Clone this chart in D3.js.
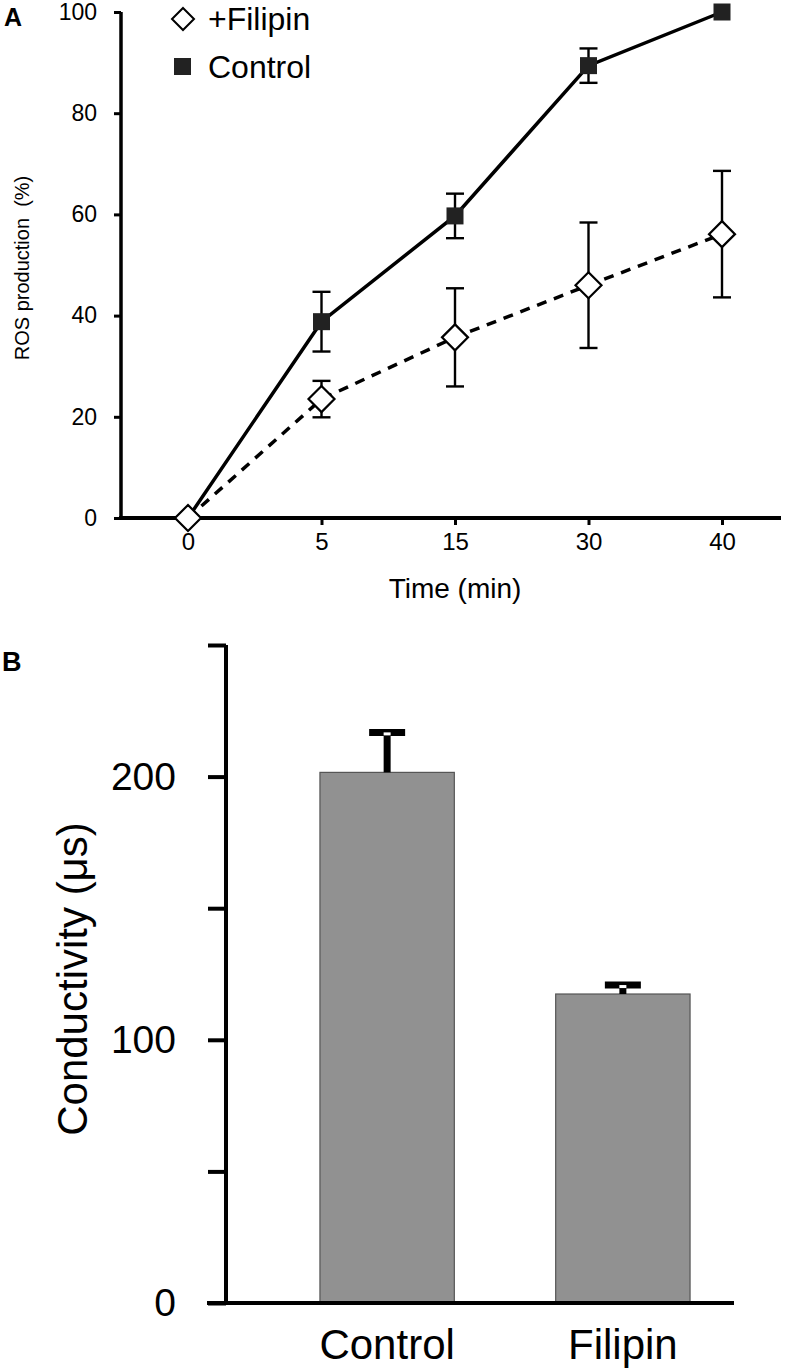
<!DOCTYPE html>
<html><head><meta charset="utf-8">
<script src="https://cdn.jsdelivr.net/npm/d3@7"></script>
<style>
html,body{margin:0;padding:0;background:#fff;}
svg{display:block;font-family:"Liberation Sans",Arial,Helvetica,sans-serif;}
</style></head>
<body>
<svg id="chart" width="793" height="1372"></svg>
<script>
// ---- Panel A data ----
const times = ["0", "5", "15", "30", "40"];
const controlMean = [0, 38.8, 59.7, 89.4, 100];
const controlErr = [0, 5.9, 4.4, 3.4, 0];
const filipinMean = [0, 23.5, 35.7, 46.0, 56.1];
const filipinErr = [0, 3.6, 9.7, 12.4, 12.5];
const yTicksA = [0, 20, 40, 60, 80, 100];
const legendLabels = ["+Filipin", "Control"];

// ---- Panel B data ----
const barCategories = ["Control", "Filipin"];
const barValues = [201.6, 117.4];
const barErrors = [15.2, 3.4];
const yTicksB = [0, 50, 100, 150, 200, 250];
const yTickLabelsB = ["0", "", "100", "", "200", ""];

const svg = d3.select("#chart");
const FF = "Liberation Sans, Arial, sans-serif";

// ================= Panel A =================
const A = svg.append("g");
const xA = d3.scalePoint().domain(times).range([188, 722]);
const yA = d3.scaleLinear().domain([0, 100]).range([518, 12]);

A.append("text").attr("x", 4).attr("y", 26).attr("font-size", 25).attr("font-weight", "bold").text("A");

// y axis
const yAxisA = d3.axisLeft(yA).tickValues(yTicksA).tickSize(7).tickSizeOuter(0).tickPadding(17);
const gyA = A.append("g").attr("transform", "translate(121,0)").call(yAxisA);
gyA.select(".domain").attr("stroke-width", 3.5).attr("d", `M0,${yA(100)}V${yA(0)}`);
gyA.selectAll(".tick line").attr("stroke-width", 3);
gyA.selectAll(".tick text").attr("font-size", 23).attr("font-family", FF).attr("fill", "#000");

// x axis
const xAxisA = d3.axisBottom(xA).tickSize(7).tickSizeOuter(0).tickPadding(8);
const gxA = A.append("g").attr("transform", "translate(0,518)").call(xAxisA);
gxA.select(".domain").attr("stroke-width", 4).attr("d", "M119,0H781");
gxA.selectAll(".tick line").attr("stroke-width", 3);
gxA.selectAll(".tick text").attr("font-size", 24).attr("font-family", FF).attr("fill", "#000");

// axis titles
A.append("text").attr("x", 455).attr("y", 598).attr("text-anchor", "middle").attr("font-size", 28).text("Time (min)");
A.append("text").attr("transform", "translate(29,268) rotate(-90)").attr("text-anchor", "middle")
  .attr("font-size", 20).style("white-space", "pre").text("ROS production  (%)");

// lines
const line = d3.line().x((d, i) => xA(times[i])).y(d => yA(d));
A.append("path").datum(filipinMean).attr("d", line).attr("fill", "none").attr("stroke", "#000")
  .attr("stroke-width", 3.5).attr("stroke-dasharray", "10,8");
A.append("path").datum(controlMean).attr("d", line).attr("fill", "none").attr("stroke", "#000")
  .attr("stroke-width", 3.5);

// error bars
function errBars(means, errs) {
  const g = A.append("g").attr("stroke", "#000").attr("stroke-width", 2.4);
  means.forEach((m, i) => {
    if (!errs[i]) return;
    const x = xA(times[i]);
    g.append("line").attr("x1", x).attr("x2", x).attr("y1", yA(m + errs[i])).attr("y2", yA(m - errs[i]));
    [m + errs[i], m - errs[i]].forEach(v => {
      g.append("line").attr("x1", x - 9).attr("x2", x + 9).attr("y1", yA(v)).attr("y2", yA(v));
    });
  });
}
errBars(controlMean, controlErr);
errBars(filipinMean, filipinErr);

// markers
const diamond = (cx, cy, r) => `M${cx},${cy - r}L${cx + r},${cy}L${cx},${cy + r}L${cx - r},${cy}Z`;
A.append("g").selectAll("rect").data(controlMean).join("rect")
  .attr("x", (d, i) => xA(times[i]) - 8.5).attr("y", d => yA(d) - 8.5)
  .attr("width", 17).attr("height", 17).attr("fill", "#222")
  .attr("display", (d, i) => i === 0 ? "none" : null);
A.append("g").selectAll("path").data(filipinMean).join("path")
  .attr("d", (d, i) => diamond(xA(times[i]), yA(d), 13))
  .attr("fill", "#fff").attr("stroke", "#000").attr("stroke-width", 2.2);

// legend
A.append("path").attr("d", diamond(183, 19, 11)).attr("fill", "#fff").attr("stroke", "#000").attr("stroke-width", 2);
A.append("rect").attr("x", 174).attr("y", 58).attr("width", 17).attr("height", 17).attr("fill", "#222");
A.append("text").attr("x", 208).attr("y", 30).attr("font-size", 32).text(legendLabels[0]);
A.append("text").attr("x", 208).attr("y", 78).attr("font-size", 32).text(legendLabels[1]);

// ================= Panel B =================
const B = svg.append("g");
const xB = d3.scaleBand().domain(barCategories).range([253, 757]).paddingInner(0.43).paddingOuter(0.284);
const yB = d3.scaleLinear().domain([0, 250]).range([1303, 645]);

B.append("text").attr("x", 2).attr("y", 671).attr("font-size", 27).attr("font-weight", "bold").text("B");

// bars
B.append("g").selectAll("rect").data(barValues).join("rect")
  .attr("x", (d, i) => xB(barCategories[i])).attr("y", d => yB(d))
  .attr("width", xB.bandwidth()).attr("height", d => yB(0) - yB(d))
  .attr("fill", "#919191").attr("stroke", "#555").attr("stroke-width", 1.2);

// error bars (upper only)
const eg = B.append("g");
barValues.forEach((v, i) => {
  const cx = xB(barCategories[i]) + xB.bandwidth() / 2;
  const top = yB(v + barErrors[i]);
  eg.append("line").attr("x1", cx).attr("x2", cx).attr("y1", yB(v)).attr("y2", top)
    .attr("stroke", "#000").attr("stroke-width", 7);
  eg.append("line").attr("x1", cx - 18).attr("x2", cx + 18).attr("y1", top).attr("y2", top)
    .attr("stroke", "#000").attr("stroke-width", 7);
  eg.append("rect").attr("x", cx - 3.5).attr("y", top).attr("width", 7).attr("height", 3).attr("fill", "#fff");
});

// y axis
const yAxisB = d3.axisLeft(yB).tickValues(yTicksB).tickFormat((d, i) => yTickLabelsB[i])
  .tickSize(18).tickSizeOuter(0).tickPadding(32);
const gyB = B.append("g").attr("transform", "translate(226,0)").call(yAxisB);
gyB.select(".domain").attr("stroke-width", 4).attr("d", `M0,${yB(250)}V${yB(0)}`);
gyB.selectAll(".tick line").attr("stroke-width", 4);
gyB.selectAll(".tick text").attr("font-size", 39).attr("font-family", FF).attr("fill", "#000");

// x axis
const xAxisB = d3.axisBottom(xB).tickSize(0).tickSizeOuter(0).tickPadding(26);
const gxB = B.append("g").attr("transform", "translate(0,1303)").call(xAxisB);
gxB.select(".domain").attr("stroke-width", 4).attr("d", "M207,0H734");
gxB.selectAll(".tick text").attr("font-size", 42).attr("font-family", FF).attr("fill", "#000");

// y title
B.append("text").attr("transform", "translate(87,979) rotate(-90)").attr("text-anchor", "middle")
  .attr("font-size", 42).text("Conductivity (μs)");
</script>
</body></html>
